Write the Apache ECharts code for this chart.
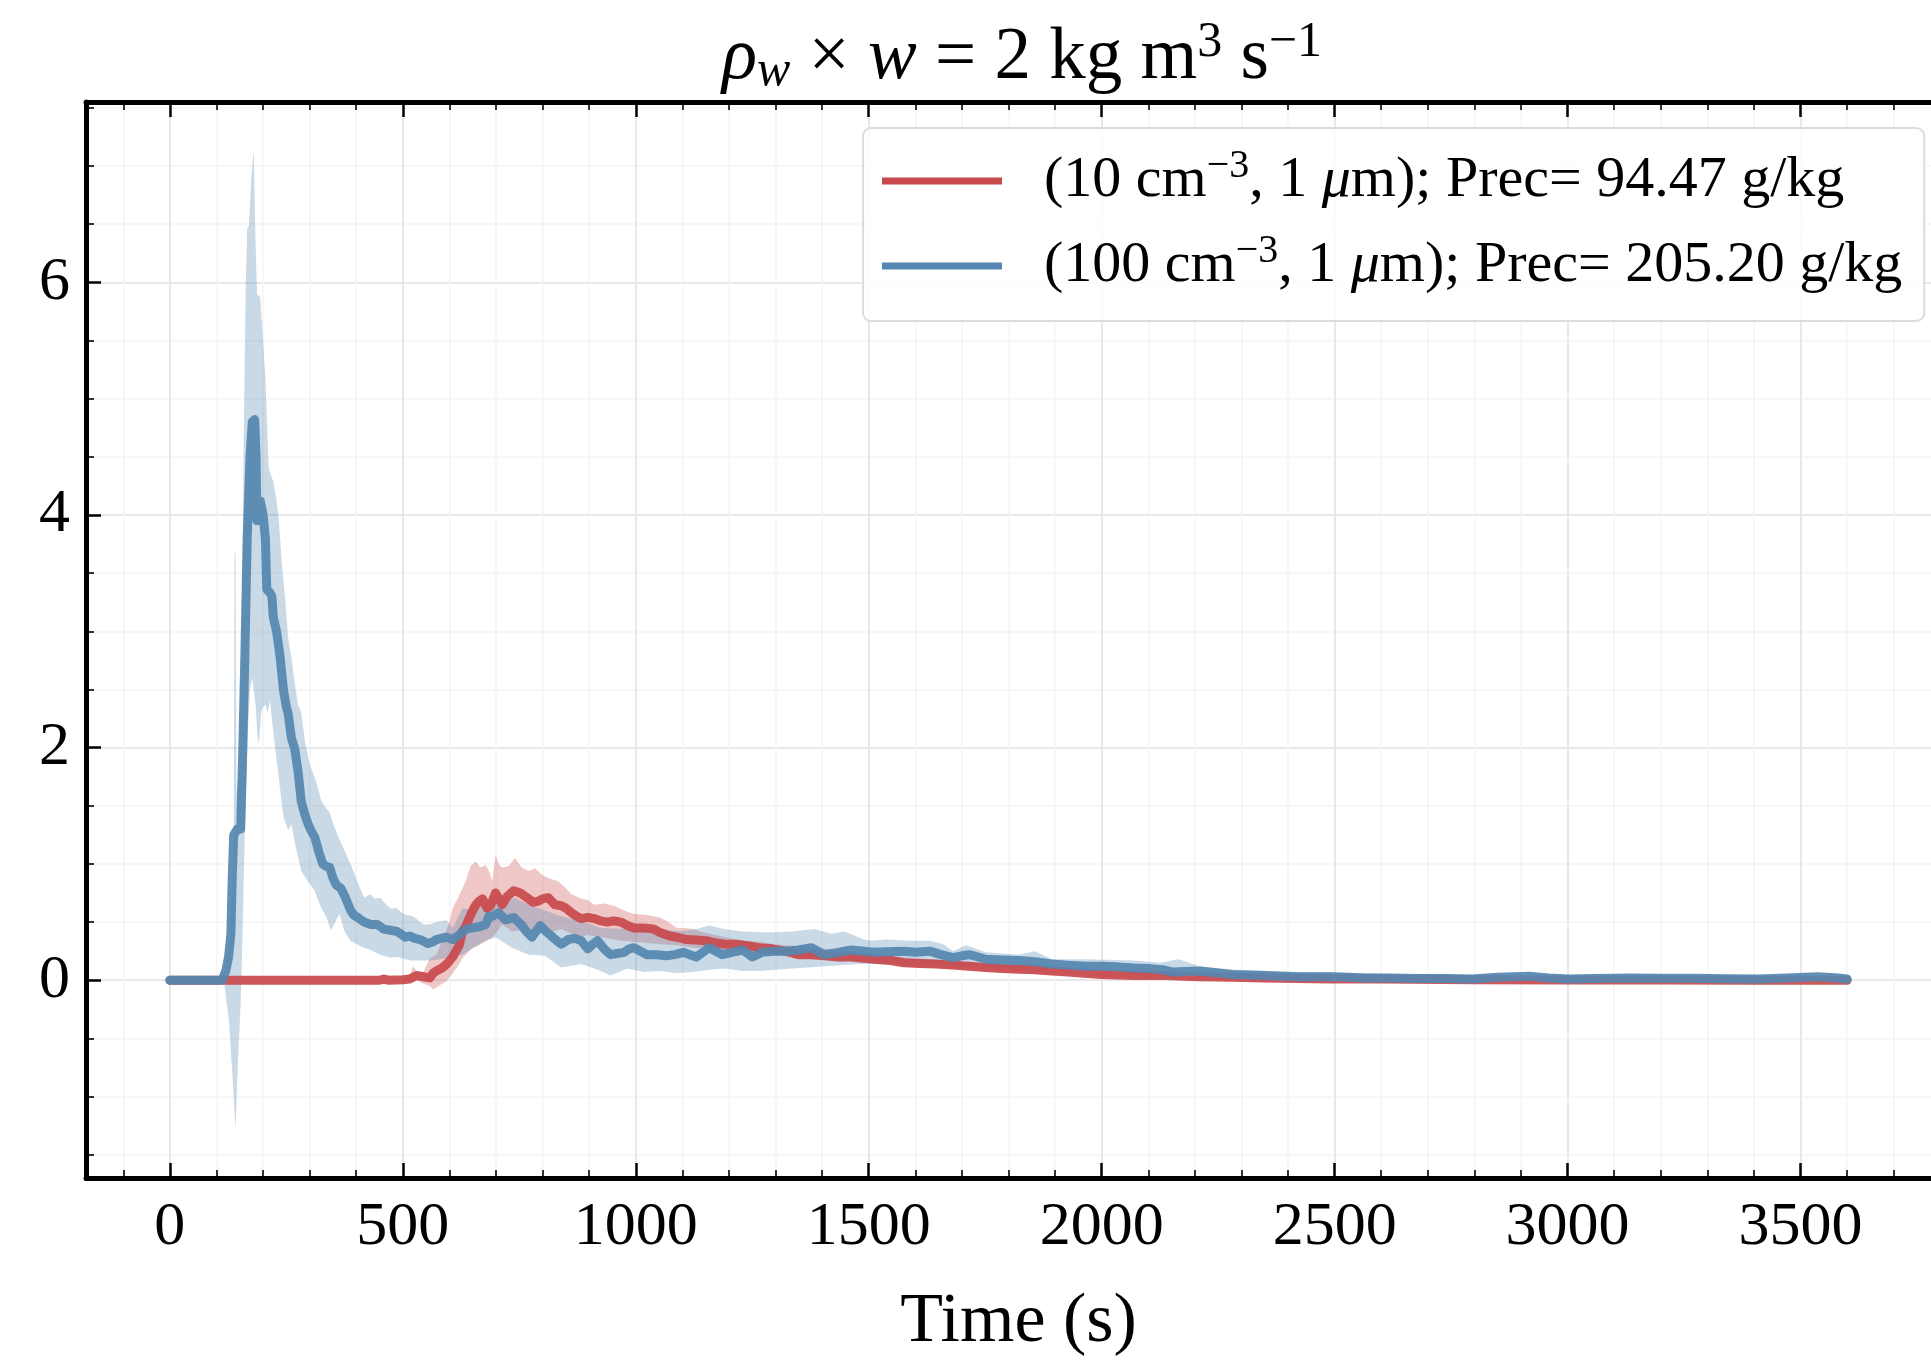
<!DOCTYPE html>
<html>
<head>
<meta charset="utf-8">
<script src="https://cdn.jsdelivr.net/npm/echarts@6/dist/echarts.min.js"></script>
<style>
  html, body { margin: 0; padding: 0; background: #ffffff; }
  #chart { width: 1931px; height: 1363px; }
</style>
</head>
<body>
<div id="chart"></div>
<script>
// ---------------- data ----------------
const xMajorTicks = [0, 500, 1000, 1500, 2000, 2500, 3000, 3500];
const xMinorTicks = [-100, 100, 200, 300, 400, 600, 700, 800, 900, 1100, 1200, 1300, 1400, 1600, 1700, 1800, 1900, 2100, 2200, 2300, 2400, 2600, 2700, 2800, 2900, 3100, 3200, 3300, 3400, 3600, 3700];
const yMajorTicks = [0, 2, 4, 6];
const yMinorTicks = [-1.5, -1, -0.5, 0.5, 1, 1.5, 2.5, 3, 3.5, 4.5, 5, 5.5, 6.5, 7, 7.5];

const legendLabels = ['(10 cm-3, 1 μm); Prec= 94.47 g/kg', '(100 cm-3, 1 μm); Prec= 205.20 g/kg'];

// red case: (10 cm^-3, 1 um)
const redMeanT = [0,100,200,300,400,450,459,470,500,515,530,544,558,565,572,586,597,607,614,621,628,636,643,650,657,664,671,681,688,699,706,713,724,738,745,752,770,780,791,800,812,819,826,840,850,862,873,883,897,911,925,939,953,968,982,996,1017,1038,1052,1073,1088,1109,1130,1151,1172,1193,1215,1236,1264,1292,1320,1349,1377,1405,1434,1462,1490,1511,1547,1575,1610,1645,1680,1716,1750,1787,1822,1857,1893,1928,1963,1999,2034,2069,2104,2140,2175,2210,2280,2352,2420,2493,2600,2800,3000,3200,3400,3600];
const redMeanV = [0,0,0,0,0,0,0.01,0,0.005,0.01,0.04,0.03,0.02,0.06,0.08,0.11,0.15,0.2,0.25,0.3,0.42,0.47,0.54,0.6,0.65,0.68,0.7,0.62,0.64,0.75,0.7,0.65,0.72,0.77,0.76,0.75,0.7,0.67,0.68,0.7,0.71,0.68,0.65,0.64,0.62,0.58,0.55,0.53,0.54,0.53,0.51,0.5,0.51,0.5,0.47,0.45,0.45,0.44,0.41,0.38,0.37,0.35,0.345,0.34,0.32,0.31,0.31,0.3,0.28,0.27,0.25,0.22,0.22,0.21,0.2,0.2,0.19,0.18,0.17,0.15,0.145,0.14,0.13,0.12,0.11,0.1,0.095,0.09,0.08,0.07,0.06,0.05,0.045,0.04,0.04,0.04,0.035,0.03,0.025,0.02,0.015,0.01,0.01,0.005,0.003,0.002,0,0];
const redUpT = [0,450,500,515,522,530,544,558,572,586,600,607,620,635,645,657,666,678,686,692,699,706,713,727,741,755,770,784,798,812,833,848,862,883,897,911,932,953,975,996,1024,1052,1070,1088,1105,1123,1140,1158,1193,1229,1264,1299,1350,1405,1476,1547,1600,1700,1800,1900,2000,2100,2200,2300,2400,2500,2700,3000,3300,3600];
const redUpV = [0,0,0.01,0.05,0.12,0.08,0.07,0.19,0.22,0.35,0.5,0.62,0.72,0.85,0.98,1.02,0.97,0.99,0.93,0.85,1.08,1.0,0.97,0.98,1.05,0.97,0.94,0.96,0.91,0.88,0.85,0.8,0.74,0.7,0.69,0.65,0.66,0.64,0.6,0.57,0.56,0.54,0.5,0.45,0.45,0.44,0.42,0.4,0.37,0.34,0.33,0.31,0.29,0.27,0.24,0.21,0.19,0.16,0.13,0.11,0.08,0.06,0.05,0.04,0.03,0.02,0.015,0.01,0.01,0.005];
const redLowT = [0,450,487,515,530,544,558,565,580,593,607,618,628,640,650,664,678,690,699,713,724,734,752,770,788,805,822,840,862,883,897,911,939,968,996,1024,1056,1088,1123,1158,1193,1229,1280,1335,1390,1441,1500,1547,1600,1700,1800,1900,2000,2100,2200,2300,2500,3000,3600];
const redLowV = [0,0,-0.01,-0.01,0,-0.03,-0.05,-0.08,-0.04,-0.01,0.06,0.12,0.19,0.24,0.28,0.3,0.34,0.36,0.4,0.48,0.45,0.42,0.43,0.44,0.42,0.4,0.42,0.44,0.4,0.37,0.39,0.38,0.36,0.34,0.33,0.32,0.31,0.3,0.28,0.27,0.25,0.24,0.22,0.21,0.19,0.18,0.15,0.14,0.12,0.1,0.08,0.06,0.03,0.02,0.01,0.005,0,-0.005,-0.005];

// blue case: (100 cm^-3, 1 um)
const blueMeanT = [0,50,100,112,120,126,131,134,137,145,152,156,161,166,172,177,182,185,187,191,194,200,205,208,215,219,222,229,236,244,250,254,261,265,268,275,282,290,297,304,311,320,328,335,343,350,357,367,378,388,395,403,417,431,445,459,473,487,495,505,515,525,537,554,565,572,582,593,607,621,636,650,664,678,685,692,706,713,720,730,738,756,765,777,786,795,807,819,830,840,848,855,869,883,897,908,918,932,946,960,975,986,996,1010,1024,1045,1066,1084,1102,1116,1130,1144,1158,1172,1186,1207,1229,1240,1250,1261,1271,1296,1321,1349,1377,1391,1405,1434,1462,1490,1511,1540,1575,1600,1631,1655,1681,1700,1716,1735,1751,1787,1822,1857,1893,1928,1963,2000,2034,2069,2104,2130,2154,2180,2210,2245,2281,2316,2352,2390,2423,2460,2493,2530,2564,2620,2680,2740,2796,2850,2917,2960,3002,3060,3129,3200,3270,3340,3411,3470,3538,3580,3600];
const blueMeanV = [0,0,0,0,0.08,0.2,0.4,0.9,1.25,1.3,1.3,1.9,2.8,3.8,4.5,4.8,4.82,4.5,3.95,3.95,4.12,4.0,3.8,3.36,3.33,3.3,3.12,3.0,2.8,2.49,2.35,2.29,2.08,2.03,1.99,1.8,1.54,1.42,1.34,1.28,1.23,1.1,1.0,0.98,0.97,0.88,0.82,0.79,0.7,0.6,0.56,0.54,0.5,0.48,0.48,0.44,0.43,0.42,0.4,0.37,0.38,0.36,0.35,0.315,0.33,0.35,0.36,0.37,0.35,0.39,0.44,0.45,0.46,0.48,0.55,0.55,0.58,0.55,0.52,0.53,0.54,0.47,0.42,0.37,0.42,0.47,0.42,0.38,0.34,0.31,0.33,0.35,0.36,0.34,0.27,0.31,0.34,0.27,0.22,0.23,0.24,0.27,0.28,0.25,0.22,0.22,0.21,0.22,0.24,0.22,0.2,0.24,0.28,0.25,0.22,0.24,0.26,0.23,0.2,0.22,0.24,0.25,0.25,0.26,0.28,0.25,0.22,0.24,0.26,0.25,0.24,0.245,0.25,0.24,0.25,0.22,0.195,0.21,0.22,0.2,0.18,0.175,0.17,0.16,0.14,0.13,0.12,0.12,0.115,0.105,0.1,0.09,0.07,0.075,0.08,0.065,0.05,0.045,0.04,0.035,0.03,0.03,0.03,0.025,0.02,0.02,0.015,0.015,0.01,0.025,0.035,0.02,0.01,0.015,0.02,0.018,0.017,0.012,0.01,0.02,0.03,0.02,0.01];
const blueUpT = [0,100,115,124,132,137,139,141,143,150,155,159,163,166,170,175,180,183,187,194,200,205,212,218,222,228,233,240,247,254,261,268,275,282,290,300,311,318,325,335,343,352,360,374,388,402,417,430,440,452,462,473,487,501,522,544,558,572,586,593,607,628,657,671,685,706,720,741,770,805,840,883,925,982,1038,1095,1130,1158,1190,1229,1278,1335,1384,1420,1448,1490,1504,1539,1589,1631,1660,1681,1709,1751,1822,1857,1893,1963,2069,2126,2165,2210,2281,2423,2564,2700,2850,3000,3200,3400,3538,3600];
const blueUpV = [0,0,0.05,0.25,0.6,1.2,3.65,3.7,1.6,1.8,3.2,4.8,6.0,6.45,6.5,6.9,7.14,6.5,5.9,5.87,5.5,5.18,4.4,4.33,4.29,4.15,4.0,3.6,3.3,2.94,2.77,2.55,2.37,2.3,2.05,1.86,1.74,1.65,1.54,1.48,1.44,1.33,1.25,1.12,1.0,0.85,0.71,0.74,0.7,0.71,0.66,0.62,0.62,0.57,0.55,0.48,0.48,0.5,0.51,0.52,0.45,0.62,0.6,0.65,0.65,0.71,0.68,0.71,0.65,0.6,0.55,0.51,0.45,0.44,0.45,0.42,0.44,0.47,0.44,0.42,0.41,0.42,0.44,0.4,0.42,0.35,0.34,0.35,0.34,0.34,0.31,0.25,0.3,0.24,0.22,0.25,0.18,0.18,0.17,0.15,0.18,0.12,0.09,0.07,0.06,0.04,0.04,0.035,0.035,0.03,0.045,0.025];
const blueLowT = [0,100,112,117,122,127,134,141,146,152,156,159,163,167,172,177,180,184,188,191,196,200,205,210,215,220,226,235,244,254,261,270,282,296,311,325,335,346,355,364,375,388,410,431,452,473,490,515,558,593,628,664,685,699,734,770,805,840,883,918,946,982,1017,1052,1088,1123,1158,1193,1229,1264,1300,1335,1370,1405,1440,1476,1510,1547,1600,1660,1720,1780,1850,1920,2000,2080,2154,2200,2300,2400,2500,2600,2800,3000,3300,3600];
const blueLowV = [0,0,-0.02,-0.03,-0.2,-0.35,-0.8,-1.28,-0.7,-0.2,0.4,0.95,1.6,2.1,2.5,2.6,2.49,2.37,2.1,2.03,2.3,2.35,2.37,2.3,2.41,2.2,2.0,1.7,1.4,1.29,1.34,1.15,0.94,0.85,0.77,0.62,0.55,0.43,0.5,0.57,0.42,0.34,0.29,0.26,0.22,0.195,0.2,0.17,0.17,0.19,0.22,0.31,0.35,0.37,0.28,0.22,0.21,0.11,0.14,0.09,0.04,0.1,0.07,0.08,0.06,0.07,0.09,0.1,0.08,0.08,0.09,0.1,0.11,0.12,0.13,0.14,0.14,0.15,0.14,0.13,0.12,0.11,0.1,0.09,0.07,0.06,0.03,0.04,0.025,0.01,0.01,0,-0.005,0,0,0];

// ---------------- styles ----------------
const RED = '#c8494c';
const BLUE = '#5587b0';
const FONT = '"Liberation Serif", "DejaVu Serif", serif';

const zip = (t, v) => t.map((x, i) => [x, v[i]]);

function band(tU, vU, tL, vL, fill) {
  return {
    type: 'custom',
    coordinateSystem: 'cartesian2d',
    xAxisIndex: 0, yAxisIndex: 0,
    silent: true,
    z: 1,
    data: [[tU[0], vU[0]]],
    renderItem: function (params, api) {
      const pts = [];
      for (let i = 0; i < tU.length; i++) pts.push(api.coord([tU[i], vU[i]]));
      for (let i = tL.length - 1; i >= 0; i--) pts.push(api.coord([tL[i], vL[i]]));
      return { type: 'polygon', shape: { points: pts }, style: { fill: fill } };
    }
  };
}

function lineSeries(name, t, v, color) {
  return {
    name: name, type: 'line', xAxisIndex: 0, yAxisIndex: 0,
    data: zip(t, v), showSymbol: false, symbol: 'none', z: 3,
    color: color,
    lineStyle: { width: 9, color: color, opacity: 0.92, join: 'round', cap: 'round' },
    emphasis: { disabled: true }
  };
}

const X_MIN = -180, X_MAX = 3780, Y_MIN = -1.70, Y_MAX = 7.55;
const gridBox = { left: 86, top: 102, width: 1868, height: 1079 };

function legendRich(name) {
  const m = name.match(/^\((\d+) cm-3, 1 μm\); Prec= ([\d.]+) g\/kg$/);
  return '{g|}(' + m[1] + ' cm{sup|−3}, 1 {it|μ}m); Prec= ' + m[2] + ' g/kg';
}

const plain = v => String(v);

const option = {
  animation: false,
  backgroundColor: '#ffffff',
  grid: [Object.assign({ containLabel: false }, gridBox)],
  graphic: [{
    type: 'text', x: 1022, y: 99, z: 100,
    style: {
      text: '{i|ρ}{sub|w}{n| × }{i|w}{n| = 2 kg m}{sup|3}{n| s}{sup|−1}',
      align: 'center', verticalAlign: 'bottom',
      fontFamily: FONT, fontSize: 72, fill: '#000',
      rich: {
        i: { fontFamily: FONT, fontSize: 73, fontStyle: 'italic', lineHeight: 80, fill: '#000' },
        n: { fontFamily: FONT, fontSize: 73, lineHeight: 80, fill: '#000' },
        sub: { fontFamily: FONT, fontSize: 50, fontStyle: 'italic', lineHeight: 50, padding: [26, 0, 0, 0], fill: '#000' },
        sup: { fontFamily: FONT, fontSize: 50, lineHeight: 50, padding: [0, 0, 32, 0], fill: '#000' }
      }
    }
  }],
  legend: {
    data: legendLabels,
    orient: 'vertical',
    left: 863, top: 128,
    padding: [17, 22, 19, 19],
    itemGap: 13,
    itemWidth: 120, itemHeight: 7,
    icon: 'rect',
    backgroundColor: 'rgba(255,255,255,0.85)',
    borderColor: '#dcdcdc', borderWidth: 2, borderRadius: 8,
    selectedMode: false,
    formatter: legendRich,
    textStyle: {
      fontFamily: FONT, fontSize: 58, color: '#000', lineHeight: 72,
      rich: {
        g: { width: 37 },
        sup: { fontFamily: FONT, fontSize: 40, lineHeight: 40, padding: [0, 0, 30, 0], color: '#000' },
        it: { fontFamily: FONT, fontSize: 58, fontStyle: 'italic', color: '#000' }
      }
    }
  },
  xAxis: [
    { // main bottom axis: spine, major ticks, labels, major grid
      type: 'value', gridIndex: 0, position: 'bottom', min: X_MIN, max: X_MAX,
      axisLine: { show: true, onZero: false, lineStyle: { color: '#000', width: 5 } },
      axisTick: { show: true, inside: true, length: 15, customValues: xMajorTicks, lineStyle: { color: '#000', width: 2.5 } },
      axisLabel: { show: true, customValues: xMajorTicks, formatter: plain, margin: 19, fontFamily: FONT, fontSize: 62, color: '#000' },
      splitLine: { show: true, lineStyle: { color: '#e8e8e8', width: 2 } },
      name: 'Time (s)', nameLocation: 'middle', nameGap: 110,
      nameTextStyle: { fontFamily: FONT, fontSize: 70, color: '#000', padding: [0, 0, 0, 20] }
    },
    { // bottom minor ticks + minor grid
      type: 'value', gridIndex: 0, position: 'bottom', min: X_MIN, max: X_MAX,
      axisLine: { show: false, onZero: false },
      axisTick: { show: true, inside: true, length: 8, customValues: xMinorTicks, lineStyle: { color: '#000', width: 1.6 } },
      axisLabel: { show: false },
      splitLine: { show: true, lineStyle: { color: '#f4f4f4', width: 1.5 } }
    },
    { // top spine + major ticks
      type: 'value', gridIndex: 0, position: 'top', min: X_MIN, max: X_MAX,
      axisLine: { show: true, onZero: false, lineStyle: { color: '#000', width: 5 } },
      axisTick: { show: true, inside: true, length: 15, customValues: xMajorTicks, lineStyle: { color: '#000', width: 2.5 } },
      axisLabel: { show: false }, splitLine: { show: false }
    },
    { // top minor ticks
      type: 'value', gridIndex: 0, position: 'top', min: X_MIN, max: X_MAX,
      axisLine: { show: false, onZero: false },
      axisTick: { show: true, inside: true, length: 8, customValues: xMinorTicks, lineStyle: { color: '#000', width: 1.6 } },
      axisLabel: { show: false }, splitLine: { show: false }
    }
  ],
  yAxis: [
    {
      type: 'value', gridIndex: 0, position: 'left', min: Y_MIN, max: Y_MAX,
      axisLine: { show: true, onZero: false, lineStyle: { color: '#000', width: 5 } },
      axisTick: { show: true, inside: true, length: 15, customValues: yMajorTicks, lineStyle: { color: '#000', width: 2.5 } },
      axisLabel: { show: true, customValues: yMajorTicks, formatter: plain, margin: 16, fontFamily: FONT, fontSize: 62, color: '#000' },
      splitLine: { show: true, lineStyle: { color: '#e8e8e8', width: 2 } }
    },
    {
      type: 'value', gridIndex: 0, position: 'left', min: Y_MIN, max: Y_MAX,
      axisLine: { show: false, onZero: false },
      axisTick: { show: true, inside: true, length: 8, customValues: yMinorTicks, lineStyle: { color: '#000', width: 1.6 } },
      axisLabel: { show: false },
      splitLine: { show: true, lineStyle: { color: '#f4f4f4', width: 1.5 } }
    }
  ],
  series: [
    band(redUpT, redUpV, redLowT, redLowV, 'rgba(205,80,82,0.32)'),
    band(blueUpT, blueUpV, blueLowT, blueLowV, 'rgba(88,137,176,0.32)'),
    lineSeries(legendLabels[0], redMeanT, redMeanV, RED),
    lineSeries(legendLabels[1], blueMeanT, blueMeanV, BLUE)
  ]
};

const chart = echarts.init(document.getElementById('chart'), null, { renderer: 'canvas' });
chart.setOption(option);
</script>
</body>
</html>
